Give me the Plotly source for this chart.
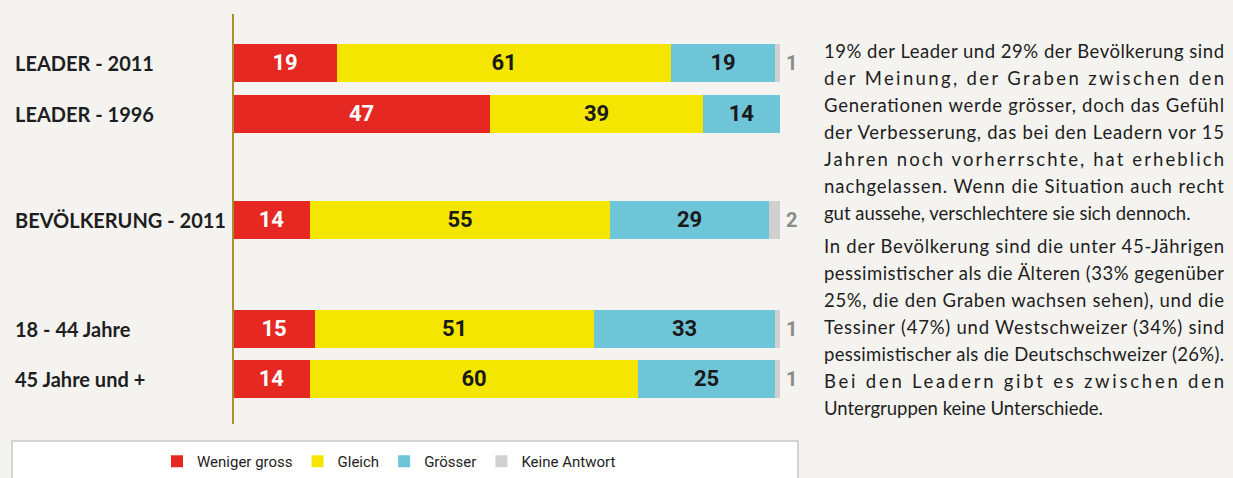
import json
import plotly.graph_objects as go

W, H = 1233, 478

categories = ["LEADER - 2011", "LEADER - 1996", "BEVÖLKERUNG - 2011", "18 - 44 Jahre", "45 Jahre und +"]
weniger_gross = [19, 47, 14, 15, 14]
gleich = [61, 39, 55, 51, 60]
groesser = [19, 14, 29, 33, 25]
keine_antwort = [1, 0, 2, 1, 1]
series_names = ["Weniger gross", "Gleich", "Grösser", "Keine Antwort"]

paragraph_lines = [
    "19% der Leader und 29% der Bevölkerung sind",
    "der Meinung, der Graben zwischen den",
    "Generationen werde grösser, doch das Gefühl",
    "der Verbesserung, das bei den Leadern vor 15",
    "Jahren noch vorherrschte, hat erheblich",
    "nachgelassen. Wenn die Situation auch recht",
    "gut aussehe, verschlechtere sie sich dennoch.",
    "In der Bevölkerung sind die unter 45-Jährigen",
    "pessimistischer als die Älteren (33% gegenüber",
    "25%, die den Graben wachsen sehen), und die",
    "Tessiner (47%) und Westschweizer (34%) sind",
    "pessimistischer als die Deutschschweizer (26%).",
    "Bei den Leadern gibt es zwischen den",
    "Untergruppen keine Unterschiede.",
]
# lines that are set justified (full column width) in the original
justified = [True, True, True, True, True, True, False,
             True, True, True, True, True, True, False]

# ---- layout / style ----
BG = "#f4f3ef"
colors = ["#e52822", "#f5e600", "#6ec5d8", "#d0d0d0"]
text_colors = ["#ffffff", "#1a1a1a", "#1a1a1a", "#1a1a1a"]
row_pos = [51, 102, 208, 318, 368]      # pixel offsets of bar centres from plot top
plot_top, plot_bottom = 12, 428
x_left, x_right = 233, 780
col_left, col_width = 822, 400

def px(x):
    return x / W

def py(y):
    return 1 - y / H

fig = go.Figure()
for name, vals, col, tcol in zip(series_names, [weniger_gross, gleich, groesser, keine_antwort], colors, text_colors):
    show_text = name != "Keine Antwort"
    fig.add_trace(go.Bar(
        name=name,
        y=row_pos,
        x=vals,
        orientation="h",
        width=38,
        marker=dict(color=col, line=dict(width=0)),
        text=[str(v) if (show_text and v > 0) else "" for v in vals],
        textposition="inside",
        insidetextanchor="middle",
        textangle=0,
        constraintext="none",
        textfont=dict(family="Roboto", size=22, color=tcol, weight="bold"),
        hoverinfo="x+name",
    ))

annotations = []
# category labels
for cat, yp in zip(categories, row_pos):
    annotations.append(dict(
        x=px(13), xref="paper", y=yp, yref="y", text=cat, showarrow=False,
        xanchor="left", yanchor="middle",
        font=dict(family="Lato", size=20, color="#1e1e22", weight="bold"),
    ))
# keine antwort outside labels
for v, yp in zip(keine_antwort, row_pos):
    if v > 0:
        annotations.append(dict(
            x=100, xref="x", y=yp, yref="y", text=str(v), showarrow=False,
            xanchor="left", yanchor="middle", xshift=4,
            font=dict(family="Roboto", size=20, color="#8c8c8c", weight="bold"),
        ))
# paragraph
line_y = [51, 78, 105, 132, 159, 186, 213, 247, 274, 301, 328, 355, 382, 409]
for ln, ly in zip(paragraph_lines, line_y):
    annotations.append(dict(
        x=px(col_left), xref="paper", y=py(ly), yref="paper", text=ln, showarrow=False,
        xanchor="left", yanchor="middle",
        font=dict(family="Lato", size=18.5, color="#1e1e22"),
    ))

shapes = [
    dict(type="line", xref="paper", yref="paper", x0=px(233), x1=px(233), y0=py(14), y1=py(425),
         line=dict(color="#a8902e", width=2)),
    dict(type="rect", xref="paper", yref="paper", x0=px(12), x1=px(798), y0=py(442), y1=py(490),
         fillcolor="#ffffff", line=dict(color="#c8c8c8", width=1.5), layer="below"),
]

fig.update_layout(
    width=W, height=H,
    barmode="stack",
    paper_bgcolor=BG, plot_bgcolor=BG,
    margin=dict(l=0, r=0, t=0, b=0),
    xaxis=dict(domain=[px(x_left), px(x_right)], range=[0, 100], visible=False, fixedrange=True),
    yaxis=dict(domain=[py(plot_bottom), py(plot_top)], range=[plot_bottom - plot_top, 0],
               visible=False, fixedrange=True),
    showlegend=True,
    legend=dict(orientation="h", x=px(389), xanchor="center", y=py(462), yanchor="middle",
                bgcolor="rgba(0,0,0,0)", font=dict(family="Roboto", size=15, color="#1e1e22"),
                itemwidth=30, traceorder="normal"),
    annotations=annotations,
    shapes=shapes,
    bargap=0,
)

justify_list = [ln for ln, j in zip(paragraph_lines, justified) if j]
post = """
document.body.style.margin = '0';
document.body.style.background = '%s';
(function(){
  var gd = document.getElementById('{plot_id}');
  var just = %s;
  function fix(){
    gd.querySelectorAll('text.annotation-text').forEach(function(t){
      if (just.indexOf(t.textContent) >= 0 && !t.getAttribute('textLength')) {
        var bb = t.getBBox();
        t.setAttribute('text-anchor', 'start');
        t.setAttribute('x', bb.x);
        t.setAttribute('textLength', %d);
        t.setAttribute('lengthAdjust', 'spacing');
      }
    });
  }
  fix();
  if (document.fonts && document.fonts.ready) { document.fonts.ready.then(fix); }
})();
""" % (BG, json.dumps(justify_list), col_width)

fig.write_html("out.html", post_script=post, config={"displayModeBar": False})
